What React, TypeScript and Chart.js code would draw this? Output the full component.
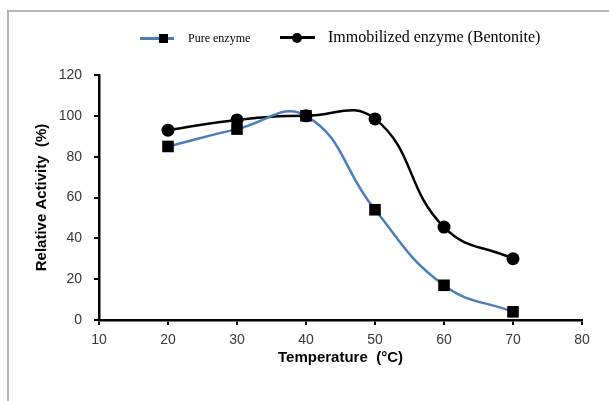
import React, { useEffect, useRef } from "react";
import { Chart, registerables } from "chart.js";

Chart.register(...registerables);

const temperatures = [20, 30, 40, 50, 60, 70];
const pureEnzyme = [85, 93.5, 100, 54, 17, 4];
const immobilizedEnzyme = [93, 98, 100, 98.5, 45.5, 30];
const seriesLabels = ["Pure enzyme", "Immobilized enzyme (Bentonite)"];
const xTitle = "Temperature  (\u00B0C)";
const yTitle = "Relative Activity  (%)";

const BLUE = "#4a7ebb";

export default function App() {
  const ref = useRef<HTMLCanvasElement>(null);
  useEffect(() => {
    const ctx = ref.current!;
    const chart = new Chart(ctx, {
      type: "line",
      data: {
        datasets: [
          {
            label: seriesLabels[0],
            data: temperatures.map((t, i) => ({ x: t, y: pureEnzyme[i] })),
            borderColor: BLUE,
            borderWidth: 2.5,
            tension: 0.45,
            pointStyle: "rect",
            pointRadius: 8.2,
            pointBackgroundColor: "#000",
            pointBorderColor: "#000",
            pointBorderWidth: 0,
          },
          {
            label: seriesLabels[1],
            data: temperatures.map((t, i) => ({ x: t, y: immobilizedEnzyme[i] })),
            borderColor: "#000",
            borderWidth: 2.5,
            tension: 0.45,
            pointStyle: "circle",
            pointRadius: 6.5,
            pointBackgroundColor: "#000",
            pointBorderColor: "#000",
            pointBorderWidth: 0,
          },
        ],
      },
      options: {
        animation: false,
        responsive: false,
        maintainAspectRatio: false,
        layout: { padding: { top: 75, right: 27, left: 0, bottom: 0 } },
        plugins: { legend: { display: false }, tooltip: { enabled: false } },
        scales: {
          x: {
            type: "linear",
            min: 10,
            max: 80,
            afterFit: (s: any) => {
              s.height = 81;
            },
            ticks: {
              stepSize: 10,
              color: "#383838",
              padding: 7,
              font: { family: "Liberation Sans", size: 14 },
            },
            grid: {
              drawOnChartArea: false,
              drawTicks: true,
              tickLength: 5,
              color: "#000",
              lineWidth: 2,
            },
            border: { color: "#000", width: 2.5 },
            title: {
              display: true,
              text: xTitle,
              color: "#000",
              font: { family: "Liberation Sans", size: 15, weight: "bold" },
              padding: { top: 0, bottom: 34 },
            },
          },
          y: {
            min: 0,
            max: 120,
            afterFit: (s: any) => {
              s.width = 99;
            },
            ticks: {
              stepSize: 20,
              color: "#383838",
              padding: 12,
              font: { family: "Liberation Sans", size: 14 },
            },
            grid: {
              drawOnChartArea: false,
              drawTicks: true,
              tickLength: 5,
              color: "#000",
              lineWidth: 2,
            },
            border: { color: "#000", width: 2.5 },
            title: {
              display: true,
              text: yTitle,
              color: "#000",
              font: { family: "Liberation Sans", size: 15, weight: "bold" },
              padding: { top: 33, bottom: 0 },
            },
          },
        },
      },
    });
    return () => chart.destroy();
  }, []);

  const serif = "'Liberation Serif', 'Times New Roman', serif";
  return (
    <div style={{ position: "fixed", left: 0, top: 0, width: 609, height: 401, background: "#fff", overflow: "hidden" }}>
      <div
        style={{
          position: "absolute",
          left: 7,
          top: 10,
          width: 700,
          height: 500,
          borderLeft: "2px solid #b4b4b4",
          borderTop: "2px solid #b4b4b4",
        }}
      />
      <canvas ref={ref} width={609} height={401} style={{ position: "absolute", left: 0, top: 0 }} />
      {/* legend */}
      <div style={{ position: "absolute", left: 140, top: 36.5, width: 34, height: 3, background: BLUE }} />
      <div style={{ position: "absolute", left: 159, top: 33.5, width: 9, height: 9, background: "#000" }} />
      <div style={{ position: "absolute", left: 188, top: 30, fontFamily: serif, fontSize: 12, lineHeight: "16px", color: "#000", whiteSpace: "nowrap" }}>
        {seriesLabels[0]}
      </div>
      <div style={{ position: "absolute", left: 280, top: 36, width: 35, height: 3, background: "#000" }} />
      <div style={{ position: "absolute", left: 292, top: 32.5, width: 10, height: 10, borderRadius: "50%", background: "#000" }} />
      <div style={{ position: "absolute", left: 328, top: 27, fontFamily: serif, fontSize: 16, lineHeight: "20px", color: "#000", whiteSpace: "nowrap" }}>
        {seriesLabels[1]}
      </div>
    </div>
  );
}
